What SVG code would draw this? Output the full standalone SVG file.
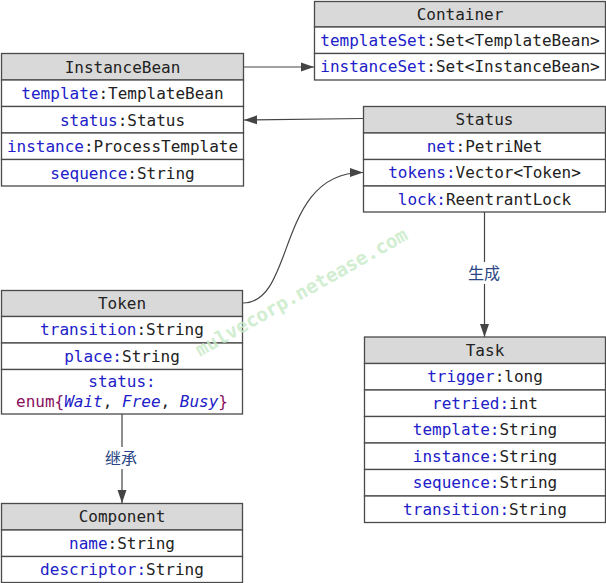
<svg xmlns="http://www.w3.org/2000/svg" width="606" height="583" viewBox="0 0 606 583">
<style>
.box{fill:#fff;stroke:#4a4a4a;stroke-width:1.3}
.hd{fill:#d9d9d9;stroke:#4a4a4a;stroke-width:1.3}
.t{font-family:"DejaVu Sans Mono","Liberation Mono",monospace;font-size:16px;fill:#222;text-anchor:middle}
.f{fill:#2020c8}
.e{fill:#8a1060}
.i{fill:#2020c8;font-style:italic}
.c{fill:none;stroke:#444;stroke-width:1.2}
.lb{font-family:"Noto Sans CJK SC","Noto Sans",sans-serif;font-size:16px;fill:#2a4684;text-anchor:middle}
.wm{font-family:"DejaVu Sans Mono",monospace;font-weight:bold;font-size:19px;fill:#c6eac6;opacity:0.8}
</style>
<defs>
<marker id="ar" markerUnits="userSpaceOnUse" markerWidth="14" markerHeight="10" refX="13" refY="5" orient="auto">
<path d="M0,0.5 L13,5 L0,9.5 Z" fill="#444"/>
</marker>
</defs>

<g id="connectors">
<path class="c" d="M243.5,67 L314,67" marker-end="url(#ar)"/>
<path class="c" d="M363.5,118.5 L244,120" marker-end="url(#ar)"/>
<path class="c" d="M243,303 C296,303 276,172 363,172.5" marker-end="url(#ar)"/>
<path class="c" d="M484.5,212 L484.5,262 M484.5,284 L484.5,337" marker-end="url(#ar)"/>
<text class="lb" x="484" y="279">生成</text>
<path class="c" d="M122,414 L122,447 M122,469 L122,503" marker-end="url(#ar)"/>
<text class="lb" x="121" y="464">继承</text>
</g>

<g id="Container">
<rect class="hd" x="314.5" y="1.5" width="291" height="25.5"/>
<rect class="box" x="314.5" y="27" width="291" height="26.5"/>
<rect class="box" x="314.5" y="53.5" width="291" height="26.5"/>
<text class="t" x="460" y="19.5">Container</text>
<text class="t" x="460" y="45.5"><tspan class="f">templateSet</tspan>:Set&lt;TemplateBean&gt;</text>
<text class="t" x="460" y="72"><tspan class="f">instanceSet</tspan>:Set&lt;InstanceBean&gt;</text>
</g>

<g id="InstanceBean">
<rect class="hd" x="1.5" y="53.5" width="242" height="26.5"/>
<rect class="box" x="1.5" y="80" width="242" height="26.5"/>
<rect class="box" x="1.5" y="106.5" width="242" height="26.5"/>
<rect class="box" x="1.5" y="133" width="242" height="26.5"/>
<rect class="box" x="1.5" y="159.5" width="242" height="26.5"/>
<text class="t" x="122.5" y="72.5">InstanceBean</text>
<text class="t" x="122.5" y="99"><tspan class="f">template</tspan>:TemplateBean</text>
<text class="t" x="122.5" y="125.5"><tspan class="f">status</tspan>:Status</text>
<text class="t" x="122.5" y="152"><tspan class="f">instance</tspan>:ProcessTemplate</text>
<text class="t" x="122.5" y="178.5"><tspan class="f">sequence</tspan>:String</text>
</g>

<g id="Status">
<rect class="hd" x="363.5" y="106.5" width="242" height="26.5"/>
<rect class="box" x="363.5" y="133" width="242" height="26.5"/>
<rect class="box" x="363.5" y="159.5" width="242" height="26.5"/>
<rect class="box" x="363.5" y="186" width="242" height="26"/>
<text class="t" x="484.5" y="125">Status</text>
<text class="t" x="484.5" y="151.5"><tspan class="f">net</tspan>:PetriNet</text>
<text class="t" x="484.5" y="178"><tspan class="f">tokens:</tspan>Vector&lt;Token&gt;</text>
<text class="t" x="484.5" y="204.5"><tspan class="f">lock:</tspan>ReentrantLock</text>
</g>

<g id="Task">
<rect class="hd" x="364.5" y="337" width="241" height="26.5"/>
<rect class="box" x="364.5" y="363.5" width="241" height="26.5"/>
<rect class="box" x="364.5" y="390" width="241" height="26.5"/>
<rect class="box" x="364.5" y="416.5" width="241" height="26.5"/>
<rect class="box" x="364.5" y="443" width="241" height="26.5"/>
<rect class="box" x="364.5" y="469.5" width="241" height="26.5"/>
<rect class="box" x="364.5" y="496" width="241" height="26.5"/>
<text class="t" x="485" y="355.5">Task</text>
<text class="t" x="485" y="382"><tspan class="f">trigger</tspan>:long</text>
<text class="t" x="485" y="408.5"><tspan class="f">retried:</tspan>int</text>
<text class="t" x="485" y="435"><tspan class="f">template:</tspan>String</text>
<text class="t" x="485" y="461.5"><tspan class="f">instance:</tspan>String</text>
<text class="t" x="485" y="488"><tspan class="f">sequence:</tspan>String</text>
<text class="t" x="485" y="514.5"><tspan class="f">transition:</tspan>String</text>
</g>

<g id="Token">
<rect class="hd" x="1.5" y="290.5" width="241" height="26"/>
<rect class="box" x="1.5" y="316.5" width="241" height="26.5"/>
<rect class="box" x="1.5" y="343" width="241" height="26.5"/>
<rect class="box" x="1.5" y="369.5" width="241" height="44.5"/>
<text class="t" x="122" y="309">Token</text>
<text class="t" x="122" y="335"><tspan class="f">transition</tspan>:String</text>
<text class="t" x="122" y="361.5"><tspan class="f">place:</tspan>String</text>
<text class="t" x="122" y="387"><tspan class="f">status:</tspan></text>
<text class="t" x="122" y="407"><tspan class="e">enum{</tspan><tspan class="i">Wait</tspan>, <tspan class="i">Free</tspan>, <tspan class="i">Busy</tspan><tspan class="e">}</tspan></text>
</g>

<g id="Component">
<rect class="hd" x="1.5" y="503.5" width="241" height="26.5"/>
<rect class="box" x="1.5" y="530" width="241" height="26.5"/>
<rect class="box" x="1.5" y="556.5" width="241" height="26"/>
<text class="t" x="122" y="522">Component</text>
<text class="t" x="122" y="548.5"><tspan class="f">name</tspan>:String</text>
<text class="t" x="122" y="575"><tspan class="f">descriptor:</tspan>String</text>
</g>

<text class="wm" x="0" y="0" transform="translate(200,357) rotate(-29.5)">mulvecorp.netease.com</text>
</svg>
